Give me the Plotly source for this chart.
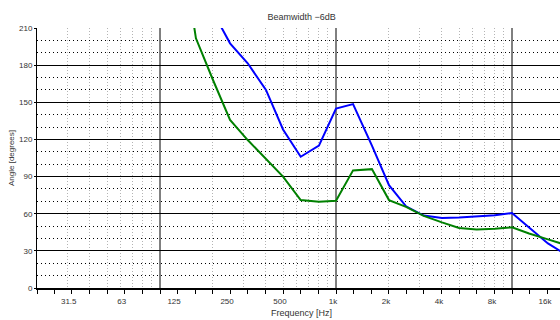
import math
import plotly.graph_objects as go

# ---- data ----
freq_blue = [200, 250, 315, 400, 500, 630, 800, 1000, 1250, 1600, 2000, 2500,
             3150, 4000, 5000, 6300, 8000, 10000, 12500, 16000, 20000]
angle_blue = [223, 197.6, 181.5, 160, 128, 106, 115, 145, 148.5, 115, 83, 66,
              58.5, 56.5, 57, 57.6, 58.7, 60.5, 49, 36, 27.5]

freq_green = [125, 160, 200, 250, 315, 400, 500, 630, 800, 1000, 1250, 1600,
              2000, 2500, 3150, 4000, 5000, 6300, 8000, 10000, 12500, 16000, 20000]
angle_green = [300, 201.7, 168, 135.7, 119.5, 104, 90, 71, 69.7, 70.5, 95, 96,
               71, 65.5, 58.2, 53, 48.5, 47.3, 47.8, 49, 44, 39.3, 35]

tick_freqs = [20, 25, 31.5, 40, 50, 63, 80, 100, 125, 160, 200, 250, 315, 400,
              500, 630, 800, 1000, 1250, 1600, 2000, 2500, 3150, 4000, 5000,
              6300, 8000, 10000, 12500, 16000]
tick_labels = ["", "", "31.5", "", "", "63", "", "", "125", "", "", "250", "",
               "", "500", "", "", "1k", "", "", "2k", "", "", "4k", "", "",
               "8k", "", "", "16k"]
minor_grid = [30, 40, 50, 60, 70, 80, 90, 200, 300, 400, 500, 600, 700, 800,
              900, 2000, 3000, 4000, 5000, 6000, 7000, 8000, 9000]
decades = [100, 1000, 10000]
y_ticks = [0, 30, 60, 90, 120, 150, 180, 210]

FONT = "Liberation Sans, Arial, sans-serif"
TXT = "#333333"

fig = go.Figure()
fig.add_trace(go.Scatter(x=freq_blue, y=angle_blue, mode="lines",
                         line=dict(color="#0000ff", width=2), showlegend=False))
fig.add_trace(go.Scatter(x=freq_green, y=angle_green, mode="lines",
                         line=dict(color="#008000", width=2), showlegend=False))

for d in decades:
    fig.add_shape(type="line", xref="x", yref="paper", x0=d, x1=d, y0=0, y1=1,
                  line=dict(color="black", width=1), layer="below")

PW = 523  # plot width in px
fig.add_annotation(text="Frequency [Hz]", xref="paper", yref="paper",
                   x=264.7 / PW, y=-25 / 260, xanchor="center", yanchor="middle",
                   showarrow=False, font=dict(family=FONT, size=9, color=TXT))
fig.add_annotation(text="Angle [degrees]", xref="paper", yref="paper",
                   x=-26 / PW, y=0.5, xanchor="center", yanchor="middle",
                   textangle=-90, showarrow=False,
                   font=dict(family=FONT, size=8, color=TXT))

fig.update_layout(
    width=560, height=320,
    margin=dict(l=37, r=0, t=28, b=32, autoexpand=False),
    paper_bgcolor="white", plot_bgcolor="white",
    font=dict(family=FONT, size=8, color=TXT),
    title=dict(text="Beamwidth \u22126dB", xref="paper", x=264.7 / PW,
               xanchor="center", y=1 - 17 / 320, yanchor="middle",
               font=dict(family=FONT, size=9, color=TXT)),
    xaxis=dict(
        type="log", automargin=False,
        range=[math.log10(20), 4 + 48 / 176],
        tickmode="array", tickvals=tick_freqs, ticktext=tick_labels,
        ticks="outside", ticklen=4, tickcolor="black", tickwidth=1,
        ticklabelshift=-3,
        showgrid=False, zeroline=False,
        showline=True, linecolor="black", linewidth=2,
        minor=dict(tickmode="array", tickvals=minor_grid, ticks="",
                   showgrid=True, gridcolor="#b4b4b4", gridwidth=1,
                   griddash="1px,2px"),
        tickfont=dict(family=FONT, size=8, color=TXT),
    ),
    yaxis=dict(
        range=[0, 210], automargin=False,
        tickmode="array", tickvals=y_ticks,
        ticks="outside", ticklen=2, tickcolor="black",
        showgrid=True, gridcolor="black", gridwidth=1,
        zeroline=False,
        showline=True, linecolor="black", linewidth=1, mirror=True,
        minor=dict(dtick=10, tick0=0, ticks="", showgrid=True,
                   gridcolor="black", gridwidth=1, griddash="1px,3px"),
        tickfont=dict(family=FONT, size=8, color=TXT),
    ),
)

fig.write_html(
    "out.html",
    config={"displayModeBar": False},
    post_script="document.body.style.margin='0';document.body.style.overflow='hidden';",
)
